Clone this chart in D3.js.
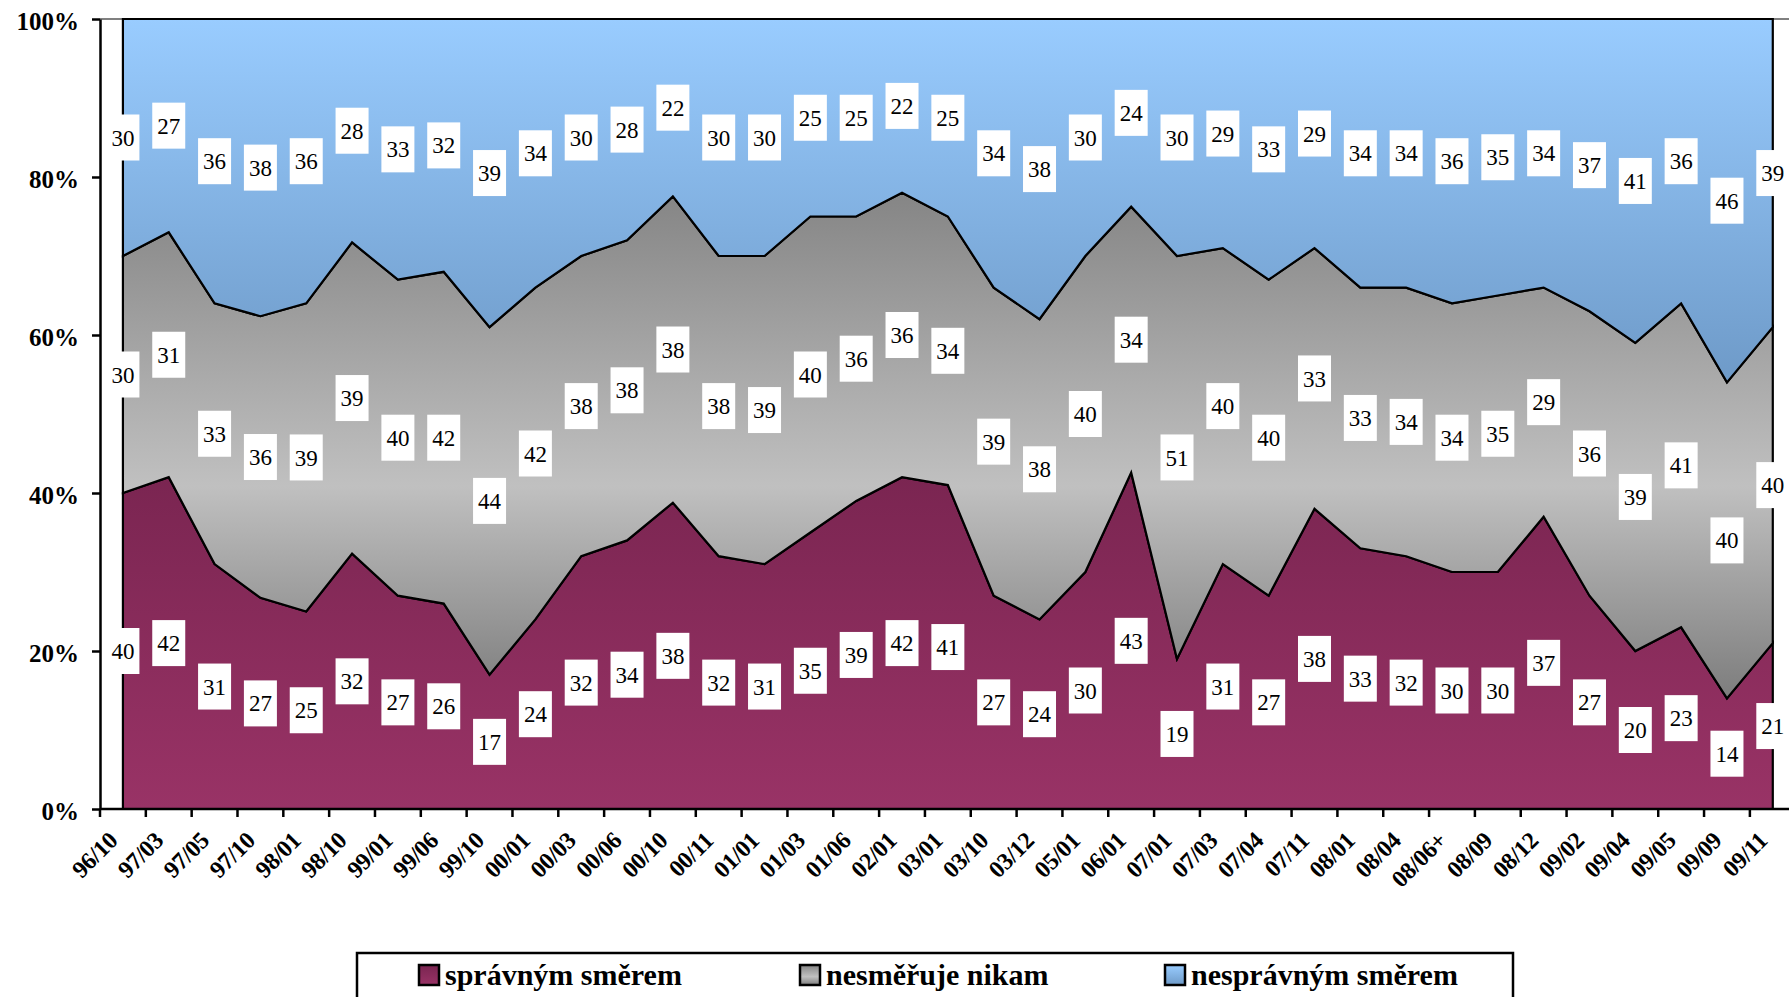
<!DOCTYPE html>
<html>
<head>
<meta charset="utf-8">
<script src="https://cdn.jsdelivr.net/npm/d3@7"></script>
<style>
  html, body { margin: 0; padding: 0; background: #fff; }
</style>
</head>
<body>
<div id="plot"></div>
<script>
const categories = ["96/10","97/03","97/05","97/10","98/01","98/10","99/01","99/06","99/10","00/01",
  "00/03","00/06","00/10","00/11","01/01","01/03","01/06","02/01","03/01","03/10","03/12","05/01",
  "06/01","07/01","07/03","07/04","07/11","08/01","08/04","08/06+","08/09","08/12","09/02","09/04",
  "09/05","09/09","09/11"];
const spravnym = [40,42,31,27,25,32,27,26,17,24,32,34,38,32,31,35,39,42,41,27,24,30,43,19,31,27,38,33,32,30,30,37,27,20,23,14,21];
const nikam    = [30,31,33,36,39,39,40,42,44,42,38,38,38,38,39,40,36,36,34,39,38,40,34,51,40,40,33,33,34,34,35,29,36,39,41,40,40];
const nespravnym = [30,27,36,38,36,28,33,32,39,34,30,28,22,30,30,25,25,22,25,34,38,30,24,30,29,33,29,34,34,36,35,34,37,41,36,46,39];
const seriesNames = ["správným směrem", "nesměřuje nikam", "nesprávným směrem"];
const yTicks = [0, 0.2, 0.4, 0.6, 0.8, 1];

const W = 1789, H = 997;
const FONT = "'Liberation Serif', 'Times New Roman', serif";
const svg = d3.select("#plot").append("svg")
  .attr("width", W).attr("height", H);

const rows = categories.map((c, i) => ({cat: c, s0: spravnym[i], s1: nikam[i], s2: nespravnym[i]}));
const keys = ["s0", "s1", "s2"];
const stacked = d3.stack().keys(keys).offset(d3.stackOffsetExpand)(rows);

// category bands: points sit at band centres, ticks at band edges
const step = 45.83;
const x = d3.scaleBand().domain(categories).range([100, 100 + step * categories.length]).padding(0);
const xc = c => x(c) + x.bandwidth() / 2;
const y = d3.scaleLinear().domain([0, 1]).range([809, 19]);

// gradients
const defs = svg.append("defs");
const grads = [
  {id: "g0", stops: [[0, "#7a2551"], [1, "#993366"]]},
  {id: "g1", stops: [[0, "#858585"], [0.58, "#c0c0c0"], [1, "#7d7d7d"]]},
  {id: "g2", stops: [[0, "#99ccff"], [1, "#6e9ac8"]]}
];
grads.forEach(g => {
  const lg = defs.append("linearGradient").attr("id", g.id)
    .attr("x1", 0).attr("y1", 0).attr("x2", 0).attr("y2", 1);
  g.stops.forEach(s => lg.append("stop").attr("offset", s[0]).attr("stop-color", s[1]));
});

// plot area border (grey)
svg.append("line")
  .attr("x1", 100).attr("x2", W).attr("y1", y(1)).attr("y2", y(1))
  .attr("stroke", "#808080").attr("stroke-width", 2);

const area = d3.area()
  .x(d => xc(d.data.cat))
  .y0(d => y(d[0]))
  .y1(d => y(d[1]));

svg.append("g").selectAll("path")
  .data(stacked)
  .enter()
  .append("path")
  .attr("d", area)
  .attr("fill", (d, i) => "url(#g" + i + ")")
  .attr("stroke", "#000")
  .attr("stroke-width", 2.2)
  .attr("stroke-linejoin", "miter");

// axes
const yAxis = svg.append("g")
  .attr("transform", "translate(100,0)")
  .call(d3.axisLeft(y).tickValues(yTicks).tickFormat(d3.format(".0%")).tickSize(8).tickSizeOuter(0).tickPadding(13));
yAxis.select(".domain").attr("stroke", "#000").attr("stroke-width", 2.5);
yAxis.selectAll(".tick line").attr("stroke", "#000").attr("stroke-width", 2.5);
yAxis.selectAll(".tick text")
  .style("font-family", FONT)
  .attr("font-size", 25).attr("font-weight", "bold").attr("fill", "#000").attr("dy", "0.4em");

const xAxis = svg.append("g");
xAxis.append("line")
  .attr("x1", 100).attr("x2", W).attr("y1", y(0)).attr("y2", y(0))
  .attr("stroke", "#000").attr("stroke-width", 2.5);
xAxis.selectAll("line.tk")
  .data(categories)
  .enter()
  .append("line")
  .attr("class", "tk")
  .attr("x1", d => x(d)).attr("x2", d => x(d))
  .attr("y1", y(0)).attr("y2", y(0) + 8)
  .attr("stroke", "#000").attr("stroke-width", 2.5);
xAxis.selectAll("text")
  .data(categories)
  .enter()
  .append("text")
  .attr("transform", d => "translate(" + (xc(d) - 4) + "," + (y(0) + 33) + ") rotate(-45)")
  .attr("text-anchor", "end")
  .style("font-family", FONT)
  .attr("font-size", 24)
  .attr("font-weight", "bold")
  .attr("letter-spacing", -0.4)
  .text(d => d);

// data labels in the middle of each band
const labels = svg.append("g");
stacked.forEach((s, si) => {
  s.forEach(d => {
    const g = labels.append("g")
      .attr("transform", "translate(" + xc(d.data.cat) + "," + y((d[0] + d[1]) / 2) + ")");
    const rect = g.append("rect").attr("fill", "#fff");
    const t = g.append("text")
      .attr("text-anchor", "middle")
      .attr("dy", "0.35em")
      .style("font-family", FONT)
      .attr("font-size", 23)
      .attr("fill", "#000")
      .text(d.data[keys[si]]);
    const w = t.node().getComputedTextLength() + 10;
    rect.attr("x", -w / 2).attr("y", -23).attr("width", w).attr("height", 46);
  });
});

// legend
const legend = svg.append("g");
legend.append("rect")
  .attr("x", 357).attr("y", 953).attr("width", 1156).attr("height", 80)
  .attr("fill", "#fff").attr("stroke", "#000").attr("stroke-width", 2.5);
const legendX = [419, 800, 1165];
seriesNames.forEach((n, i) => {
  legend.append("rect")
    .attr("x", legendX[i]).attr("y", 965).attr("width", 20).attr("height", 20)
    .attr("fill", "url(#g" + i + ")").attr("stroke", "#000").attr("stroke-width", 2.5);
  legend.append("text")
    .attr("x", legendX[i] + 26).attr("y", 985)
    .style("font-family", FONT)
    .attr("font-size", 30).attr("font-weight", "bold")
    .text(n);
});
</script>
</body>
</html>
